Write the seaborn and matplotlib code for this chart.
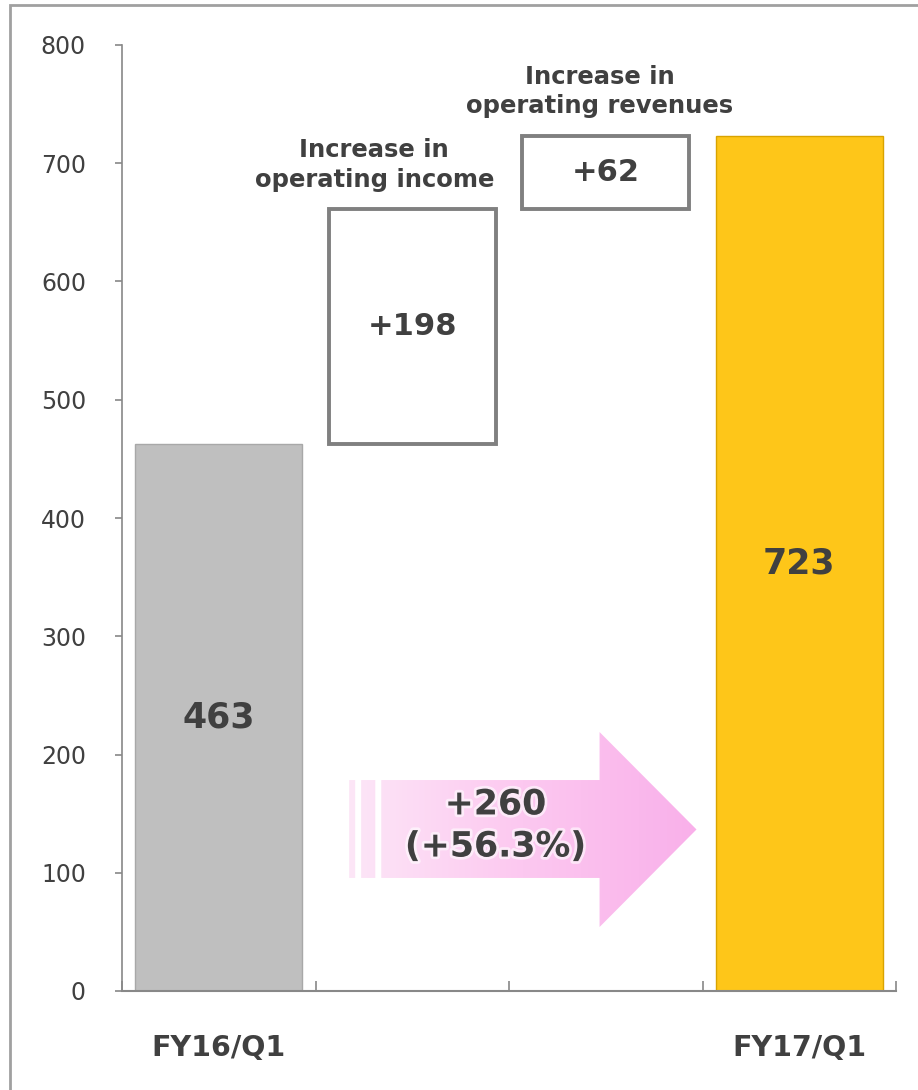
import numpy as np
import pandas as pd
import matplotlib
matplotlib.use("Agg")
import matplotlib.pyplot as plt
import seaborn as sns
from matplotlib.path import Path
from matplotlib.patches import PathPatch, Rectangle
from matplotlib.colors import LinearSegmentedColormap
import matplotlib.patheffects as pe

# ---- data ----
categories = ["FY16/Q1", "Increase in operating income", "Increase in operating revenues", "FY17/Q1"]
tick_labels = ["FY16/Q1", "", "", "FY17/Q1"]
amounts = [463, 198, 62, 723]
bottoms = [0, 463, 661, 0]
value_labels = ["463", "+198", "+62", "723"]
box_titles = ["", "Increase in\noperating income", "Increase in\noperating revenues", ""]
change_label = "+260\n(+56.3%)"
y_ticks = [0, 100, 200, 300, 400, 500, 600, 700, 800]

fill_colors = ["#bfbfbf", "#ffffff", "#ffffff", "#fec619"]
edge_colors = ["#a8a8a8", "#808080", "#808080", "#d9a300"]
edge_widths = [1.0, 2.8, 2.8, 1.0]
text_color = "#404040"

sns.set_theme(style="white")
plt.rcParams["font.family"] = ["DejaVu Sans"]

fig = plt.figure(figsize=(9.18, 10.9), dpi=100)
ax = fig.add_axes([122/918, 99/1090, (896-122)/918, (991-45)/1090])

df = pd.DataFrame({"cat": categories, "amount": amounts})
sns.barplot(data=df, x="cat", y="amount", hue="cat", order=categories,
            hue_order=categories, palette=fill_colors, legend=False,
            width=0.865, saturation=1, ax=ax)

# turn into waterfall: float the middle bars
for p in ax.patches:
    cx = p.get_x() + p.get_width() / 2
    i = int(round(cx))
    p.set_y(bottoms[i])
    p.set_height(amounts[i])
    p.set_facecolor(fill_colors[i])
    p.set_edgecolor(edge_colors[i])
    p.set_linewidth(edge_widths[i])
    p.set_zorder(2)

# value labels
label_sizes = [25, 22, 22, 25]
for i, (b, a, t) in enumerate(zip(bottoms, amounts, value_labels)):
    ax.text(i, b + a / 2, t, ha="center", va="center", fontsize=label_sizes[i],
            fontweight="bold", color=text_color, zorder=5)

# titles over the floating boxes
title_dx = [0, -0.196, -0.03, 0]
for i, t in enumerate(box_titles):
    if t:
        ax.text(i + title_dx[i], bottoms[i] + amounts[i] + 15, t,
                ha="center", va="bottom", fontsize=17.5, fontweight="bold",
                color=text_color, linespacing=1.3, zorder=5)

# pink arrow (gradient, clipped)
verts = []
codes = []
def add_poly(pts):
    for k, p in enumerate(pts):
        verts.append(p)
        codes.append(Path.MOVETO if k == 0 else Path.LINETO)
    verts.append(pts[0])
    codes.append(Path.CLOSEPOLY)

yb0, yb1 = 95.6, 178.4
add_poly([(0.674, yb0), (0.705, yb0), (0.705, yb1), (0.674, yb1)])
add_poly([(0.736, yb0), (0.809, yb0), (0.809, yb1), (0.736, yb1)])
add_poly([(0.840, yb0), (1.968, yb0), (1.968, 54.1), (2.469, 136.6),
          (1.968, 219.0), (1.968, yb1), (0.840, yb1)])
arrow_path = Path(verts, codes)
clip = PathPatch(arrow_path, facecolor="none", edgecolor="none", transform=ax.transData)
ax.add_patch(clip)
cmap = LinearSegmentedColormap.from_list("pinkgrad", ["#fde6f7", "#fcc8f0", "#f9b0ea"])
grad = np.linspace(0, 1, 256).reshape(1, -1)
im = ax.imshow(grad, cmap=cmap, extent=[0.674, 2.469, 54.1, 219.0],
               aspect="auto", origin="lower", zorder=3, interpolation="bicubic")
im.set_clip_path(clip)

ax.text(1.43, 140, change_label, ha="center", va="center", fontsize=25,
        fontweight="bold", color=text_color, linespacing=1.3, zorder=6,
        path_effects=[pe.withStroke(linewidth=4, foreground="white", alpha=0.6)])

# axes styling
ax.set_xlim(-0.5, 3.5)
ax.set_ylim(0, 800)
ax.set_yticks(y_ticks)
ax.set_yticklabels([str(v) for v in y_ticks], fontsize=17, color=text_color)
ax.set_xticks(range(4))
ax.set_xticklabels(tick_labels, fontsize=20.5, fontweight="bold", color=text_color)
ax.tick_params(axis="x", which="major", length=0, pad=31)
ax.set_xticks([-0.5, 0.5, 1.5, 2.5, 3.5], minor=True)
ax.tick_params(axis="x", which="minor", direction="in", length=7, width=1.2,
               color="#888888", bottom=True)
ax.tick_params(axis="y", direction="out", length=5, width=1.2, color="#888888",
               left=True, pad=21)
ax.set_xlabel("")
ax.set_ylabel("")
for s in ["top", "right"]:
    ax.spines[s].set_visible(False)
ax.spines["left"].set_color("#888888")
ax.spines["bottom"].set_color("#888888")
ax.spines["left"].set_linewidth(1.2)
ax.spines["bottom"].set_linewidth(1.5)
ax.grid(False)

# slide frame
fig.patches.append(Rectangle((10/918, -0.2), 1.5, 1.2 - 5/1090, transform=fig.transFigure,
                             fill=False, edgecolor="#a0a0a0", linewidth=2, zorder=0))

fig.savefig("out.png", dpi=100)
